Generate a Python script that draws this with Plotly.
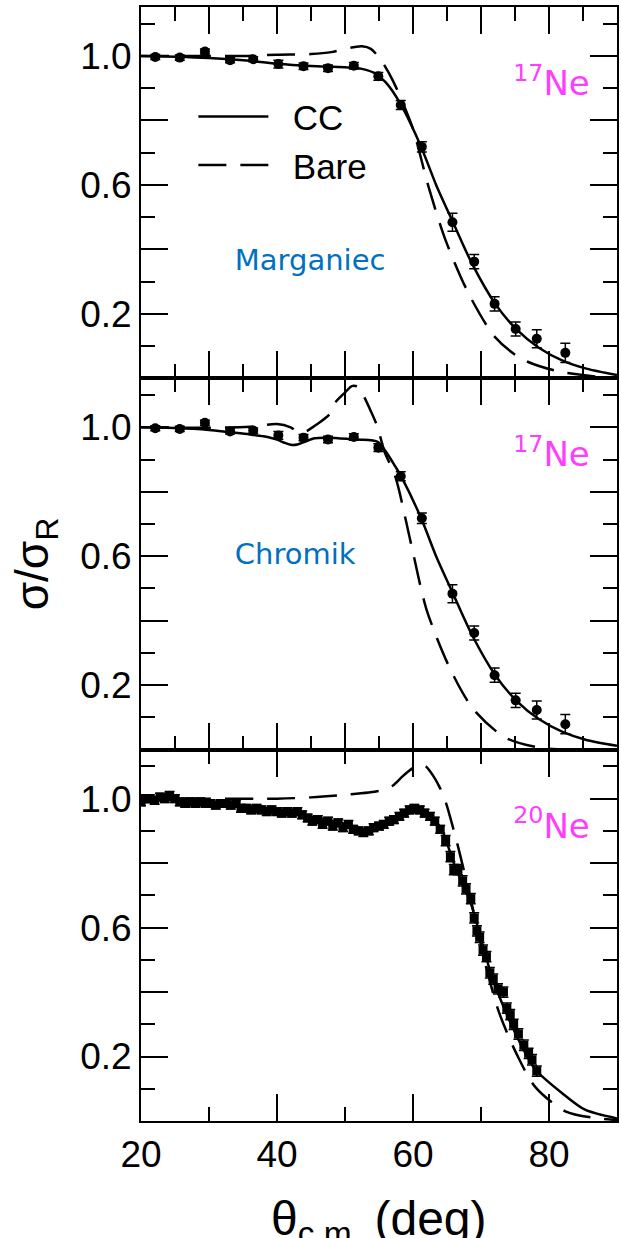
import plotly.graph_objects as go
from plotly.subplots import make_subplots

# ---- 17Ne elastic scattering, sigma/sigma_Rutherford (same data in both 17Ne panels)
ne17_theta = [22.1, 25.7, 29.4, 33.1, 36.5, 40.2, 43.9, 47.5, 51.3, 54.9,
              58.2, 61.3, 65.8, 69.0, 72.0, 75.1, 78.2, 82.4]
ne17_ratio = [0.997, 0.995, 1.014, 0.987, 0.990, 0.975, 0.968, 0.962, 0.970, 0.937,
              0.848, 0.718, 0.484, 0.362, 0.231, 0.153, 0.123, 0.079]
ne17_err = [0.008, 0.008, 0.008, 0.008, 0.008, 0.012, 0.010, 0.010, 0.010, 0.012,
            0.014, 0.016, 0.028, 0.022, 0.022, 0.022, 0.028, 0.030]

# ---- Marganiec calculations
marg_cc_theta = [20, 25, 30, 36, 40, 45, 50, 52.5, 54.5, 56, 58.2, 61.2, 63.4, 65.8,
                 68.7, 72.1, 75.3, 78.5, 82, 85.5, 90]
marg_cc_ratio = [1.0, 0.998, 0.994, 0.985, 0.976, 0.969, 0.965, 0.960, 0.945, 0.918, 0.850,
                 0.718, 0.600, 0.488, 0.355, 0.231, 0.150, 0.095, 0.055, 0.030, 0.010]
marg_bare_theta = [20, 30, 35, 40, 45, 48, 50, 51.5, 52.5, 53.8, 55.2, 57, 59.9, 62.3,
                   64.8, 68.2, 72.1, 76, 80.9, 86.8, 90]
marg_bare_ratio = [1.0, 1.0, 1.0, 1.004, 1.006, 1.012, 1.022, 1.028, 1.030, 1.022, 0.99,
                   0.925, 0.78, 0.593, 0.428, 0.262, 0.127, 0.060, 0.024, 0.006, 0.002]

# ---- Chromik calculations
chro_cc_theta = [20, 25, 30, 33, 36, 38, 40, 41, 42, 43, 44.2, 45.5, 47, 49, 52, 54.8,
                 56, 57.5, 58.2, 61.2, 63.4, 65.8, 68.7, 72.1, 75.3, 78.5, 82, 85.5, 90]
chro_cc_ratio = [1.0, 0.998, 0.992, 0.985, 0.978, 0.972, 0.962, 0.953, 0.946, 0.947, 0.956,
                 0.966, 0.968, 0.966, 0.962, 0.955, 0.925, 0.875, 0.850, 0.718, 0.600,
                 0.488, 0.355, 0.231, 0.150, 0.095, 0.055, 0.030, 0.012]
chro_bare_theta = [20, 30, 36, 40, 42, 43.3, 44.5, 45.7, 47.7, 48.5, 50, 51, 52, 52.8,
                   53.8, 54.8, 55.8, 57.4, 59.7, 62.0, 65.5, 68.9, 73.6, 78.7, 84, 90]
chro_bare_ratio = [1.0, 0.999, 1.002, 1.010, 1.0, 0.983, 0.99, 1.007, 1.040, 1.075, 1.108,
                   1.128, 1.125, 1.095, 1.05, 1.0, 0.925, 0.847, 0.64, 0.434, 0.249,
                   0.125, 0.037, 0.006, 0.0, 0.0]

# ---- 20Ne elastic scattering data
ne20_theta = [20.0, 20.6, 21.3, 22.0, 22.8, 23.5, 24.2, 25.0, 25.7, 26.5, 27.2, 28.0,
              28.7, 29.5, 30.2, 31.0, 31.7, 32.5, 33.2, 34.0, 34.7, 35.5, 36.2, 37.0,
              37.7, 38.5, 39.2, 40.0, 40.7, 41.5, 42.2, 43.0, 43.7, 44.5, 45.2, 46.0,
              46.7, 47.5, 48.2, 49.0, 49.7, 50.5, 51.2, 52.0, 52.7, 53.5, 54.2, 55.0,
              55.7, 56.5, 57.2, 58.0, 58.7, 59.5, 60.2, 61.0, 61.7, 62.5, 63.2, 64.0,
              64.8, 65.5, 66.0, 66.6, 67.3, 67.8, 68.5, 69.0, 69.4, 69.8, 70.3, 70.8,
              71.3, 71.8, 72.5, 73.3, 73.8, 74.3, 74.8, 75.5, 76.3, 77.0, 77.5, 78.2]
ne20_ratio = [0.99, 1.00, 1.00, 0.995, 1.005, 1.00, 1.01, 1.00, 0.99, 0.985, 0.99, 0.985,
              0.99, 0.985, 0.985, 0.98, 0.985, 0.985, 0.98, 0.985, 0.97, 0.97, 0.965, 0.97,
              0.965, 0.96, 0.965, 0.96, 0.955, 0.96, 0.955, 0.96, 0.95, 0.94, 0.93, 0.935,
              0.92, 0.93, 0.915, 0.925, 0.91, 0.92, 0.905, 0.90, 0.895, 0.90, 0.91, 0.915,
              0.92, 0.93, 0.935, 0.945, 0.955, 0.965, 0.97, 0.965, 0.955, 0.945, 0.93, 0.905,
              0.87, 0.82, 0.78, 0.78, 0.745, 0.72, 0.69, 0.63, 0.59, 0.57, 0.53, 0.51,
              0.46, 0.44, 0.41, 0.40, 0.35, 0.33, 0.30, 0.27, 0.235, 0.21, 0.19, 0.155]
ne20_err = [0.012] * 60 + [0.016] * 24

ne20_cc_theta = [20, 25, 30, 35, 40, 45, 50, 53, 56, 59, 60.7, 62.5, 64.3, 66, 68.5, 70,
                 71.5, 73.5, 75.8, 78, 81.9, 85.3, 90]
ne20_cc_ratio = [1.0, 0.995, 0.988, 0.975, 0.962, 0.945, 0.922, 0.906, 0.918, 0.950, 0.963,
                 0.948, 0.90, 0.80, 0.675, 0.565, 0.455, 0.345, 0.24, 0.16, 0.087, 0.035,
                 0.008]
ne20_bare_theta = [20, 30, 40, 45, 50, 55, 57, 58.5, 59.9, 61, 61.9, 63, 64, 64.8, 65.5,
                   66.7, 68.9, 70.5, 72.6, 75.3, 78, 82.4, 86.8, 90]
ne20_bare_ratio = [1.0, 1.0, 1.0, 1.004, 1.012, 1.024, 1.04, 1.07, 1.094, 1.106, 1.10, 1.07,
                   1.032, 0.99, 0.94, 0.845, 0.65, 0.50, 0.34, 0.205, 0.105, 0.03, 0.009,
                   0.003]

# ---- panel labels: nucleus (upper right) and analysis (left)
nucleus_labels = ["<sup>17</sup>Ne", "<sup>17</sup>Ne", "<sup>20</sup>Ne"]
author_labels = ["Marganiec", "Chromik", None]
nucleus_pos = (86.0, 0.905)
author_pos = [(33.8, 0.36), (33.8, 0.60), None]

x_title = "θ<sub>c.m.</sub> (deg)"
y_title = "σ/σ<sub>R</sub>"

# ---- tick positions
y_major = [0, 0.2, 0.4, 0.6, 0.8, 1.0]
y_major_text = ["", "0.2", "", "0.6", "", "1.0"]

AXIS_FONT = "Liberation Sans"
NOTE_FONT = "DejaVu Sans"
DASH = "28px,14px"
NBSP = "\u00a0\u00a0"

fig = make_subplots(rows=3, cols=1, vertical_spacing=0)

panels = [
    (ne17_theta, ne17_ratio, ne17_err, marg_cc_theta, marg_cc_ratio, marg_bare_theta, marg_bare_ratio, "circle", 10),
    (ne17_theta, ne17_ratio, ne17_err, chro_cc_theta, chro_cc_ratio, chro_bare_theta, chro_bare_ratio, "circle", 10),
    (ne20_theta, ne20_ratio, ne20_err, ne20_cc_theta, ne20_cc_ratio, ne20_bare_theta, ne20_bare_ratio, "square", 9),
]

for i, (dx, dy, de, cx, cy, bx, by, sym, msz) in enumerate(panels, start=1):
    first = i == 1
    fig.add_trace(go.Scatter(x=cx, y=cy, mode="lines", name=NBSP + "CC", showlegend=first,
                             line=dict(color="black", width=2.5, shape="spline", smoothing=0.8)),
                  row=i, col=1)
    fig.add_trace(go.Scatter(x=bx, y=by, mode="lines", name=NBSP + "Bare", showlegend=first,
                             line=dict(color="black", width=2.5, dash=DASH, shape="spline", smoothing=0.8)),
                  row=i, col=1)
    fig.add_trace(go.Scatter(x=dx, y=dy, mode="markers", showlegend=False,
                             marker=dict(symbol=sym, size=msz, color="black"),
                             error_y=dict(type="data", array=de, color="black", thickness=1.5, width=5)),
                  row=i, col=1)

    fig.add_trace(go.Scatter(x=[nucleus_pos[0]], y=[nucleus_pos[1]], mode="text",
                             text=[nucleus_labels[i - 1]], textposition="middle left",
                             textfont=dict(family=NOTE_FONT, size=34, color="#FF3DFF"),
                             showlegend=False, hoverinfo="skip", cliponaxis=False),
                  row=i, col=1)
    if author_labels[i - 1]:
        ax_x, ax_y = author_pos[i - 1]
        fig.add_trace(go.Scatter(x=[ax_x], y=[ax_y], mode="text",
                                 text=[author_labels[i - 1]], textposition="middle right",
                                 textfont=dict(family=NOTE_FONT, size=29, color="#0070C0"),
                                 showlegend=False, hoverinfo="skip", cliponaxis=False),
                      row=i, col=1)

h = 1.0 / 3
domains = [[2 * h, 1.0], [h, 2 * h], [0.0, h]]
tick_font = dict(family=AXIS_FONT, size=37, color="black")

for i in range(1, 4):
    last = i == 3
    fig.update_xaxes(
        row=i, col=1, range=[20, 90],
        showline=True, linecolor="black", linewidth=2, mirror="ticks",
        ticks="inside", ticklen=27, tickwidth=2, tickcolor="black",
        dtick=20 if last else 10,
        minor=dict(ticks="inside", ticklen=14, tickwidth=2, tickcolor="black",
                   dtick=10 if last else 5),
        showgrid=False, zeroline=False, showticklabels=last,
        tickfont=tick_font,
    )
    fig.update_yaxes(
        row=i, col=1, range=[0, 1.152], domain=domains[i - 1],
        showline=True, linecolor="black", linewidth=2, mirror="ticks",
        ticks="inside", ticklen=27, tickwidth=2, tickcolor="black",
        tickmode="array", tickvals=y_major, ticktext=y_major_text,
        minor=dict(ticks="inside", ticklen=14, tickwidth=2, tickcolor="black",
                   dtick=0.1, tick0=0),
        showgrid=False, zeroline=False,
        tickfont=tick_font,
    )

# axis titles as free-standing paper annotations
titles = [
    dict(x=0.5, y=-0.062, xref="paper", yref="paper", xanchor="center", yanchor="top",
         text=x_title, showarrow=False,
         font=dict(family=AXIS_FONT, size=48, color="black")),
    dict(x=-0.222, y=0.5, xref="paper", yref="paper", xanchor="center", yanchor="middle",
         text=y_title, textangle=-90, showarrow=False,
         font=dict(family=AXIS_FONT, size=46, color="black")),
]

fig.update_layout(
    width=621, height=1238,
    margin=dict(l=141, r=2, t=7, b=117),
    paper_bgcolor="white", plot_bgcolor="white",
    annotations=titles,
    legend=dict(x=0.11, y=0.928, xanchor="left", yanchor="top",
                bgcolor="rgba(0,0,0,0)", itemwidth=70, tracegroupgap=0,
                font=dict(family=AXIS_FONT, size=35, color="black")),
)

fig.write_html("out.html")
